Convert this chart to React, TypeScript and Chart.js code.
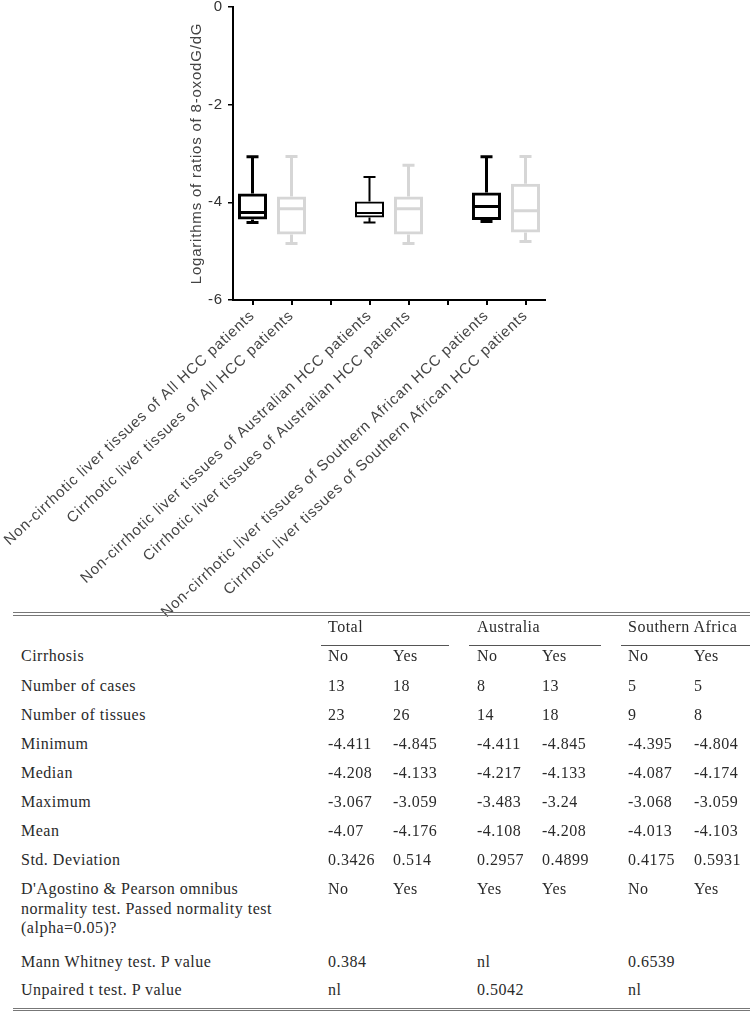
import React, { useEffect, useRef } from 'react';
import { Chart, registerables } from 'chart.js';

Chart.register(...registerables);

// ---------- chart data ----------
const categories = [
  'Non-cirrhotic liver tissues of All HCC patients',
  'Cirrhotic liver tissues of All HCC patients',
  '',
  'Non-cirrhotic liver tissues of Australian HCC patients',
  'Cirrhotic liver tissues of Australian HCC patients',
  ' ',
  'Non-cirrhotic liver tissues of Southern African HCC patients',
  'Cirrhotic liver tissues of Southern African HCC patients',
];
const minValues = [-4.411, -4.845, null, -4.411, -4.845, null, -4.395, -4.804];
const q1Values = [-4.35, -4.66, null, -4.31, -4.66, null, -4.36, -4.62];
const medianValues = [-4.208, -4.133, null, -4.217, -4.133, null, -4.087, -4.174];
const q3Values = [-3.82, -3.88, null, -3.985, -3.88, null, -3.8, -3.62];
const maxValues = [-3.067, -3.059, null, -3.483, -3.24, null, -3.068, -3.059];
const yAxisTitle = 'Logarithms of ratios of 8-oxodG/dG';
const yMin = -6;
const yMax = 0;
const yStep = 2;

// ---------- table data ----------
const tableGroups = ['Total', 'Australia', 'Southern Africa'];
const cirrhosisRow = ['No', 'Yes', 'No', 'Yes', 'No', 'Yes'];
const casesRow = ['13', '18', '8', '13', '5', '5'];
const tissuesRow = ['23', '26', '14', '18', '9', '8'];
const minimumRow = ['-4.411', '-4.845', '-4.411', '-4.845', '-4.395', '-4.804'];
const medianRow = ['-4.208', '-4.133', '-4.217', '-4.133', '-4.087', '-4.174'];
const maximumRow = ['-3.067', '-3.059', '-3.483', '-3.24', '-3.068', '-3.059'];
const meanRow = ['-4.07', '-4.176', '-4.108', '-4.208', '-4.013', '-4.103'];
const sdRow = ['0.3426', '0.514', '0.2957', '0.4899', '0.4175', '0.5931'];
const normalityRow = ['No', 'Yes', 'Yes', 'Yes', 'No', 'Yes'];
const mannWhitneyRow = ['0.384', '', 'nl', '', '0.6539', ''];
const tTestRow = ['nl', '', '0.5042', '', 'nl', ''];

// ---------- styles ----------
const BLACK = '#000000';
const GRAY = '#d6d6d6';
const boxLineWidths = [3, 3, 0, 2, 3, 0, 3, 3];
const boxColor = (i: number) => (categories[i].startsWith('Cirrhotic') ? GRAY : BLACK);
const SANS = '"Liberation Sans", Arial, Helvetica, sans-serif';
const SERIF = '"Liberation Serif", "Times New Roman", serif';

const spacingPlugin = {
  id: 'letterSpacing',
  beforeLayout(chart: any) {
    chart.ctx.letterSpacing = '0.8px';
  },
  beforeDraw(chart: any) {
    chart.ctx.letterSpacing = '0.8px';
  },
};

const whiskerPlugin = {
  id: 'boxWhiskers',
  afterDatasetsDraw(chart: any) {
    const meta = chart.getDatasetMeta(0);
    const yScale = chart.scales.y;
    const ctx = chart.ctx as CanvasRenderingContext2D;
    const cap = 12;
    ctx.save();
    meta.data.forEach((bar: any, i: number) => {
      const med = medianValues[i];
      if (med == null) return;
      const { x, width } = bar.getProps(['x', 'width'], true);
      const lw = boxLineWidths[i];
      ctx.strokeStyle = boxColor(i);
      ctx.lineWidth = lw;
      ctx.lineCap = 'butt';
      const half = width / 2;
      const yMed = yScale.getPixelForValue(med);
      const yQ1 = yScale.getPixelForValue(q1Values[i] as number);
      const yQ3 = yScale.getPixelForValue(q3Values[i] as number);
      const yLo = yScale.getPixelForValue(minValues[i] as number);
      const yHi = yScale.getPixelForValue(maxValues[i] as number);
      ctx.beginPath();
      ctx.moveTo(x - half + lw * 0.5, yMed);
      ctx.lineTo(x + half - lw * 0.5, yMed);
      // upper whisker
      ctx.moveTo(x, yQ3);
      ctx.lineTo(x, yHi);
      ctx.moveTo(x - cap / 2, yHi);
      ctx.lineTo(x + cap / 2, yHi);
      // lower whisker
      ctx.moveTo(x, yQ1);
      ctx.lineTo(x, yLo);
      ctx.moveTo(x - cap / 2, yLo);
      ctx.lineTo(x + cap / 2, yLo);
      ctx.stroke();
    });
    ctx.restore();
  },
};

function BoxChart() {
  const ref = useRef<HTMLCanvasElement | null>(null);
  useEffect(() => {
    if (!ref.current) return;
    const chart = new Chart(ref.current, {
      type: 'bar',
      data: {
        labels: categories,
        datasets: [
          {
            data: q1Values.map((v, i) => (v == null ? null : [v, q3Values[i] as number])) as any,
            backgroundColor: 'rgba(0,0,0,0)',
            borderColor: categories.map((_, i) => boxColor(i)),
            borderWidth: boxLineWidths,
            borderSkipped: false,
            barPercentage: 0.745,
            categoryPercentage: 1,
          },
        ],
      },
      options: {
        responsive: false,
        animation: false,
        events: [],
        layout: { padding: { left: 184, right: 205, top: 0, bottom: 0 } },
        plugins: {
          legend: { display: false },
          tooltip: { enabled: false },
        },
        scales: {
          x: {
            type: 'category',
            offset: true,
            grid: {
              display: true,
              drawOnChartArea: false,
              drawTicks: true,
              tickLength: 5,
              color: '#000',
              lineWidth: 2,
              offset: false,
            },
            border: { display: true, color: '#000', width: 2 },
            ticks: {
              autoSkip: false,
              minRotation: 43,
              maxRotation: 43,
              padding: 2,
              color: '#444',
              font: { family: SANS, size: 15 },
            },
            afterFit: (s: any) => {
              s.height = 320;
              s.paddingLeft = 0;
              s.paddingRight = 0;
            },
          },
          y: {
            min: yMin,
            max: yMax,
            ticks: {
              stepSize: yStep,
              padding: 5,
              color: '#333',
              font: { family: SANS, size: 15 },
            },
            grid: {
              drawOnChartArea: false,
              drawTicks: true,
              tickLength: 5,
              color: '#000',
              lineWidth: 1.5,
            },
            border: { display: true, color: '#000', width: 2 },
            title: {
              display: true,
              text: yAxisTitle,
              color: '#444',
              font: { family: SANS, size: 15 },
              padding: { top: 4, bottom: 4 },
            },
            afterFit: (s: any) => {
              s.width = 49;
              s.paddingTop = 7;
              s.paddingBottom = 0;
            },
          },
        },
      },
      plugins: [spacingPlugin, whiskerPlugin],
    });
    return () => chart.destroy();
  }, []);
  return (
    <canvas
      ref={ref}
      width={750}
      height={620}
      style={{ position: 'absolute', left: 0, top: 0, width: 750, height: 620 }}
    />
  );
}

const cellStyle: React.CSSProperties = {
  position: 'absolute',
  fontFamily: SERIF,
  fontSize: 16,
  letterSpacing: '0.5px',
  lineHeight: '20px',
  color: '#2a2a2a',
  whiteSpace: 'nowrap',
};

function StatsTable() {
  const colX = [328, 393, 477, 542, 628, 694];
  const groupX = [328, 477, 628];
  const underlines = [
    [321, 449],
    [469, 601],
    [621, 750],
  ];
  const labelX = 21;
  const rows: { label: React.ReactNode; values: string[]; y: number }[] = [
    { label: 'Cirrhosis', values: cirrhosisRow, y: 656 },
    { label: 'Number of cases', values: casesRow, y: 686 },
    { label: 'Number of tissues', values: tissuesRow, y: 715 },
    { label: 'Minimum', values: minimumRow, y: 744 },
    { label: 'Median', values: medianRow, y: 773 },
    { label: 'Maximum', values: maximumRow, y: 802 },
    { label: 'Mean', values: meanRow, y: 831 },
    { label: 'Std. Deviation', values: sdRow, y: 860 },
    {
      label: (
        <>
          D'Agostino &amp; Pearson omnibus
          <br />
          normality test. Passed normality test
          <br />
          (alpha=0.05)?
        </>
      ),
      values: normalityRow,
      y: 889,
    },
    { label: 'Mann Whitney test. P value', values: mannWhitneyRow, y: 962 },
    { label: 'Unpaired t test. P value', values: tTestRow, y: 990 },
  ];
  const line = (x1: number, x2: number, y: number, h: number, c: string, key: string) => (
    <div
      key={key}
      style={{ position: 'absolute', left: x1, top: y, width: x2 - x1, height: h, background: c }}
    />
  );
  return (
    <>
      {line(13, 750, 612, 1, '#777', 'r1')}
      {line(13, 750, 615, 1, '#777', 'r2')}
      {tableGroups.map((g, i) => (
        <div key={'g' + i} style={{ ...cellStyle, left: groupX[i], top: 627 - 10 }}>
          {g}
        </div>
      ))}
      {underlines.map((u, i) => line(u[0], u[1], 645, 1, '#555', 'u' + i))}
      {rows.map((r, ri) => (
        <React.Fragment key={'row' + ri}>
          <div style={{ ...cellStyle, left: labelX, top: r.y - 10, lineHeight: '19.5px' }}>{r.label}</div>
          {r.values.map((v, ci) =>
            v ? (
              <div key={ci} style={{ ...cellStyle, left: colX[ci], top: r.y - 10 }}>
                {v}
              </div>
            ) : null
          )}
        </React.Fragment>
      ))}
      {line(13, 750, 1008, 1, '#777', 'b1')}
      {line(13, 750, 1010, 1, '#777', 'b2')}
    </>
  );
}

export default function App() {
  return (
    <div style={{ position: 'absolute', left: 0, top: 0, width: 750, height: 1012, background: '#fff' }}>
      <BoxChart />
      <StatsTable />
    </div>
  );
}
